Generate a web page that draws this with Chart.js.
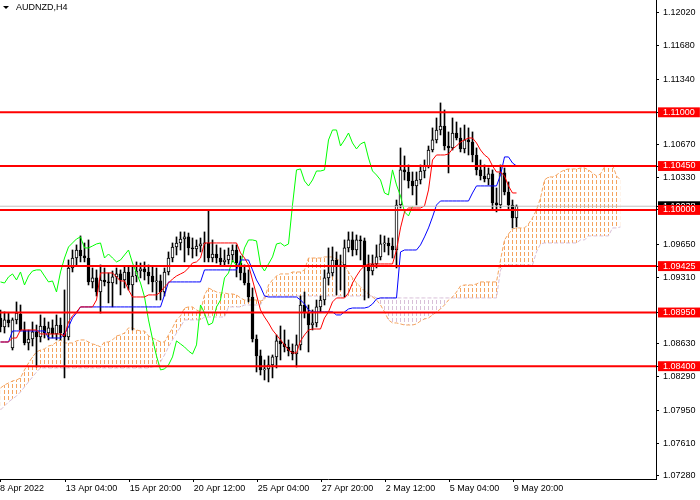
<!DOCTYPE html>
<html>
<head>
<meta charset="utf-8">
<script src="https://cdn.jsdelivr.net/npm/chart.js@4.4.1/dist/chart.umd.min.js"></script>
<style>
html,body{margin:0;padding:0;background:#fff;}
#wrap{position:relative;width:700px;height:500px;overflow:hidden;}
#c{position:absolute;left:0;top:0;}
#tri{position:absolute;left:3px;top:6px;width:0;height:0;border-left:3px solid transparent;border-right:3px solid transparent;border-top:3px solid #000;}
#title{position:absolute;left:16px;top:2px;font-family:"Liberation Sans",Arial,sans-serif;font-size:9px;line-height:10px;color:#000;white-space:nowrap;}
</style>
</head>
<body>
<div id="wrap">
<canvas id="c" width="700" height="500"></canvas>
<div id="tri"></div>
<div id="title">AUDNZD,H4</div>
</div>
<script>
// ---- data (AUDNZD H4 candles, one entry per bar) ----
const opens = [
1.08894,1.08802,1.08874,1.08587,1.08874,1.08935,1.08771,1.08638,1.08679,1.08751,
1.08700,1.08812,1.08740,1.08792,1.08730,1.08822,1.08740,1.08700,1.09406,1.09508,
1.09590,1.09529,1.09508,1.09263,1.09304,1.09160,1.09283,1.09263,1.09252,1.09314,
1.09345,1.09283,1.09365,1.09232,1.09324,1.09375,1.09396,1.09365,1.09324,1.09263,
1.09273,1.09160,1.09365,1.09508,1.09621,1.09662,1.09703,1.09724,1.09611,1.09601,
1.09631,1.09652,1.09662,1.09508,1.09549,1.09508,1.09468,1.09488,1.09539,1.09590,
1.09457,1.09355,1.09252,1.09109,1.08679,1.08505,1.08362,1.08372,1.08413,1.08495,
1.08659,1.08628,1.08597,1.08556,1.08525,1.08618,1.09027,1.08945,1.08822,1.08843,
1.09007,1.09078,1.09304,1.09355,1.09488,1.09427,1.09437,1.09611,1.09693,1.09590,
1.09693,1.09683,1.09437,1.09375,1.09447,1.09519,1.09652,1.09662,1.09631,1.09590,
1.10051,1.10410,1.10389,1.10297,1.10246,1.10307,1.10399,1.10451,1.10614,1.10717,
1.10819,1.10860,1.10655,1.10635,1.10788,1.10737,1.10625,1.10717,1.10696,1.10563,
1.10410,1.10348,1.10317,1.10369,1.10072,1.10051,1.10379,1.10184,1.10051,1.09918];
const highs = [
1.08976,1.08956,1.08945,1.08894,1.09058,1.09027,1.08853,1.08771,1.08853,1.08822,
1.08925,1.08894,1.08853,1.08874,1.08925,1.08894,1.09181,1.09488,1.09590,1.09642,
1.09734,1.09662,1.09693,1.09406,1.09386,1.09437,1.09406,1.09355,1.09375,1.09406,
1.09386,1.09427,1.09427,1.09427,1.09468,1.09457,1.09468,1.09437,1.09427,1.09406,
1.09334,1.09406,1.09570,1.09662,1.09724,1.09775,1.09775,1.09764,1.09713,1.09693,
1.09713,1.09775,1.09990,1.09693,1.09642,1.09611,1.09590,1.09611,1.09642,1.09642,
1.09529,1.09437,1.09386,1.09201,1.08720,1.08566,1.08464,1.08505,1.08515,1.08720,
1.08812,1.08771,1.08669,1.08628,1.08720,1.09119,1.09160,1.09027,1.08976,1.09078,
1.09119,1.09386,1.09611,1.09621,1.09570,1.09539,1.09693,1.09775,1.09775,1.09744,
1.09734,1.09713,1.09539,1.09539,1.09642,1.09744,1.09734,1.09713,1.09713,1.10102,
1.10635,1.10553,1.10461,1.10389,1.10389,1.10461,1.10512,1.10655,1.10840,1.10942,
1.11096,1.11024,1.10799,1.10942,1.10901,1.10840,1.10870,1.10840,1.10799,1.10635,
1.10512,1.10461,1.10430,1.10410,1.10225,1.10461,1.10430,1.10287,1.10102,1.10051];
const lows = [
1.08751,1.08740,1.08802,1.08566,1.08833,1.08761,1.08618,1.08566,1.08607,1.08392,
1.08648,1.08689,1.08669,1.08689,1.08669,1.08669,1.08280,1.08669,1.09365,1.09437,
1.09468,1.09468,1.09232,1.09201,1.09119,1.08945,1.09222,1.09048,1.09007,1.09242,
1.09130,1.09201,1.09181,1.08771,1.09263,1.09304,1.09283,1.09242,1.09160,1.09078,
1.09078,1.09119,1.09334,1.09468,1.09539,1.09590,1.09468,1.09539,1.09508,1.09529,
1.09570,1.09468,1.09468,1.09468,1.09457,1.09427,1.09427,1.09447,1.09468,1.09314,
1.09283,1.09232,1.09058,1.08648,1.08341,1.08310,1.08259,1.08239,1.08280,1.08382,
1.08464,1.08546,1.08505,1.08464,1.08392,1.08566,1.08894,1.08546,1.08771,1.08802,
1.08956,1.09027,1.09232,1.09324,1.09130,1.09181,1.09109,1.09570,1.09529,1.09539,
1.09488,1.09078,1.09099,1.09334,1.09406,1.09488,1.09570,1.09539,1.09508,1.09406,
1.10020,1.10307,1.10225,1.10154,1.10051,1.10266,1.10328,1.10430,1.10594,1.10686,
1.10768,1.10614,1.10379,1.10614,1.10717,1.10594,1.10584,1.10563,1.10492,1.10358,
1.10307,1.10287,1.10256,1.10000,1.09980,1.10020,1.10154,1.10000,1.09816,1.09826];
const closes = [
1.08802,1.08874,1.08843,1.08874,1.08945,1.08771,1.08638,1.08679,1.08751,1.08700,
1.08812,1.08740,1.08792,1.08730,1.08822,1.08740,1.08700,1.09406,1.09508,1.09590,
1.09529,1.09508,1.09263,1.09304,1.09160,1.09283,1.09263,1.09252,1.09314,1.09345,
1.09283,1.09365,1.09232,1.09324,1.09375,1.09396,1.09365,1.09324,1.09263,1.09273,
1.09160,1.09365,1.09508,1.09621,1.09662,1.09703,1.09724,1.09611,1.09601,1.09631,
1.09652,1.09662,1.09508,1.09549,1.09508,1.09468,1.09488,1.09539,1.09590,1.09457,
1.09355,1.09252,1.09109,1.08679,1.08505,1.08362,1.08372,1.08413,1.08495,1.08659,
1.08628,1.08597,1.08556,1.08525,1.08618,1.09027,1.08945,1.08822,1.08843,1.09007,
1.09078,1.09304,1.09355,1.09488,1.09427,1.09437,1.09611,1.09693,1.09590,1.09693,
1.09683,1.09437,1.09375,1.09447,1.09519,1.09652,1.09662,1.09631,1.09590,1.10051,
1.10410,1.10389,1.10297,1.10246,1.10307,1.10399,1.10451,1.10614,1.10717,1.10819,
1.10860,1.10655,1.10635,1.10788,1.10737,1.10625,1.10717,1.10696,1.10563,1.10410,
1.10348,1.10317,1.10369,1.10072,1.10051,1.10379,1.10184,1.10051,1.09918,1.10038];

// Ichimoku lines
const tenkan = [
1.08648,1.08648,1.08648,1.08689,1.08689,1.08771,1.08771,1.08771,1.08771,1.08771,
1.08730,1.08730,1.08730,1.08730,1.08730,1.08730,1.08710,1.08853,1.08915,1.08956,
1.09007,1.09007,1.09007,1.09007,1.09078,1.09355,1.09355,1.09355,1.09355,1.09314,
1.09273,1.09273,1.09181,1.09109,1.09109,1.09109,1.09109,1.09130,1.09130,1.09130,
1.09160,1.09212,1.09252,1.09293,1.09324,1.09345,1.09365,1.09406,1.09457,1.09468,
1.09508,1.09662,1.09662,1.09662,1.09662,1.09662,1.09662,1.09662,1.09662,1.09662,
1.09560,1.09508,1.09437,1.09283,1.09130,1.08976,1.08904,1.08843,1.08771,1.08720,
1.08669,1.08618,1.08566,1.08536,1.08536,1.08659,1.08720,1.08771,1.08781,1.08781,
1.08781,1.08894,1.08956,1.09058,1.09099,1.09099,1.09099,1.09150,1.09252,1.09324,
1.09386,1.09427,1.09447,1.09447,1.09447,1.09447,1.09447,1.09447,1.09447,1.09590,
1.09816,1.09980,1.10020,1.10020,1.10020,1.10020,1.10041,1.10205,1.10512,1.10563,
1.10563,1.10563,1.10573,1.10625,1.10655,1.10696,1.10717,1.10737,1.10737,1.10686,
1.10614,1.10563,1.10532,1.10451,1.10389,1.10389,1.10348,1.10246,1.10174,1.10174];
const kijun = [
1.08648,1.08648,1.08648,1.08761,1.08761,1.08761,1.08761,1.08761,1.08761,1.08761,
1.08761,1.08761,1.08689,1.08689,1.08689,1.08689,1.08730,1.08802,1.08894,1.08945,
1.09007,1.09007,1.09007,1.09007,1.09007,1.09007,1.09007,1.09007,1.09007,1.09007,
1.09007,1.09007,1.09007,1.09007,1.09007,1.09007,1.09007,1.09007,1.09007,1.09007,
1.09007,1.09130,1.09263,1.09263,1.09263,1.09263,1.09263,1.09263,1.09263,1.09263,
1.09263,1.09386,1.09386,1.09386,1.09386,1.09386,1.09386,1.09386,1.09386,1.09386,
1.09488,1.09488,1.09488,1.09386,1.09283,1.09212,1.09119,1.09109,1.09109,1.09109,
1.09109,1.09109,1.09109,1.09109,1.09109,1.09078,1.09037,1.08976,1.08956,1.08956,
1.08956,1.08956,1.08956,1.08956,1.08925,1.08925,1.08956,1.08986,1.08996,1.08996,
1.08996,1.08996,1.09007,1.09037,1.09089,1.09099,1.09099,1.09099,1.09099,1.09099,
1.09570,1.09590,1.09590,1.09590,1.09590,1.09642,1.09724,1.09816,1.09928,1.10051,
1.10092,1.10092,1.10092,1.10092,1.10092,1.10092,1.10092,1.10092,1.10174,1.10246,
1.10246,1.10246,1.10246,1.10246,1.10246,1.10358,1.10543,1.10543,1.10481,1.10451];
const chikou = [
1.09263,1.09252,1.09314,1.09345,1.09283,1.09365,1.09232,1.09324,1.09375,1.09386,
1.09386,1.09324,1.09263,1.09273,1.09160,1.09365,1.09508,1.09621,1.09662,1.09703,
1.09724,1.09611,1.09611,1.09631,1.09652,1.09662,1.09508,1.09549,1.09508,1.09468,
1.09488,1.09539,1.09590,1.09457,1.09355,1.09252,1.09109,1.08874,1.08679,1.08505,
1.08362,1.08372,1.08413,1.08495,1.08659,1.08628,1.08597,1.08556,1.08525,1.08618,
1.09027,1.08945,1.08822,1.08843,1.09007,1.09078,1.09304,1.09355,1.09488,1.09427,
1.09437,1.09611,1.09693,1.09693,1.09683,1.09437,1.09375,1.09447,1.09519,1.09652,
1.09662,1.09631,1.09652,1.10051,1.10410,1.10420,1.10297,1.10246,1.10307,1.10399,
1.10399,1.10410,1.10717,1.10819,1.10819,1.10655,1.10717,1.10788,1.10686,1.10625,
1.10676,1.10696,1.10532,1.10399,1.10358,1.10307,1.10174,1.10154,1.10410,1.10256,
1.10143,1.09980,1.09939,1.10038];
const senkouA = [
1.08177,1.08208,1.08228,1.08249,1.08259,1.08280,1.08362,1.08433,1.08495,1.08546,
1.08566,1.08577,1.08607,1.08618,1.08648,1.08669,1.08638,1.08638,1.08638,1.08659,
1.08669,1.08669,1.08648,1.08628,1.08618,1.08597,1.08648,1.08648,1.08669,1.08710,
1.08720,1.08740,1.08792,1.08792,1.08771,1.08761,1.08761,1.08710,1.08689,1.08669,
1.08648,1.08648,1.08720,1.08792,1.08874,1.08915,1.08996,1.09007,1.09007,1.08976,
1.08956,1.09130,1.09201,1.09181,1.09160,1.09150,1.09150,1.09140,1.09140,1.09130,
1.09099,1.09078,1.09078,1.09078,1.09078,1.09068,1.09078,1.09232,1.09283,1.09324,
1.09345,1.09345,1.09345,1.09365,1.09365,1.09365,1.09386,1.09508,1.09508,1.09508,
1.09508,1.09519,1.09519,1.09519,1.09498,1.09478,1.09437,1.09365,1.09304,1.09252,
1.09212,1.09171,1.09140,1.09109,1.09078,1.09027,1.08956,1.08874,1.08843,1.08843,
1.08833,1.08822,1.08822,1.08822,1.08833,1.08863,1.08884,1.08894,1.08925,1.08956,
1.08986,1.09027,1.09078,1.09109,1.09160,1.09222,1.09232,1.09232,1.09232,1.09242,
1.09263,1.09263,1.09263,1.09263,1.09263,1.09488,1.09693,1.09754,1.09805,1.09816,
1.09816,1.09816,1.09857,1.09918,1.10000,1.10123,1.10307,1.10338,1.10338,1.10358,
1.10389,1.10410,1.10420,1.10420,1.10420,1.10430,1.10430,1.10410,1.10379,1.10348,
1.10369,1.10440,1.10451,1.10461,1.10348,1.10307];
const senkouB = [
1.07952,1.07993,1.08034,1.08065,1.08095,1.08136,1.08188,1.08239,1.08290,1.08341,
1.08382,1.08382,1.08382,1.08382,1.08382,1.08382,1.08382,1.08382,1.08382,1.08382,
1.08382,1.08382,1.08382,1.08382,1.08382,1.08382,1.08382,1.08382,1.08382,1.08382,
1.08382,1.08382,1.08382,1.08382,1.08382,1.08382,1.08382,1.08382,1.08392,1.08403,
1.08444,1.08515,1.08597,1.08669,1.08740,1.08802,1.08874,1.08874,1.08874,1.08874,
1.08874,1.08904,1.08904,1.08904,1.08904,1.08904,1.08904,1.09007,1.09007,1.09007,
1.09007,1.09027,1.09027,1.09027,1.09027,1.09027,1.09119,1.09119,1.09119,1.09119,
1.09119,1.09119,1.09119,1.09119,1.09119,1.09119,1.09119,1.09119,1.09119,1.09119,
1.09119,1.09119,1.09119,1.09119,1.09119,1.09119,1.09119,1.09119,1.09119,1.09119,
1.09119,1.09119,1.09119,1.09119,1.09099,1.09099,1.09099,1.09099,1.09099,1.09099,
1.09099,1.09099,1.09099,1.09099,1.09099,1.09099,1.09099,1.09099,1.09099,1.09099,
1.09099,1.09099,1.09099,1.09099,1.09099,1.09099,1.09099,1.09099,1.09099,1.09099,
1.09099,1.09099,1.09099,1.09099,1.09099,1.09386,1.09437,1.09437,1.09437,1.09437,
1.09437,1.09437,1.09437,1.09437,1.09570,1.09652,1.09662,1.09662,1.09662,1.09662,
1.09662,1.09662,1.09662,1.09662,1.09662,1.09693,1.09693,1.09734,1.09734,1.09734,
1.09734,1.09734,1.09734,1.09816,1.09816,1.09826];

// Horizontal levels and axis labels
const levels = [1.11000, 1.10450, 1.10000, 1.09425, 1.08950, 1.08400];
const bid = 1.10038;
const yTickValues = [1.12020, 1.11680, 1.11340, 1.10670, 1.10330, 1.09650, 1.09310, 1.08630, 1.08290, 1.07950, 1.07610, 1.07280];
const xTickLabels = ['8 Apr 2022', '13 Apr 04:00', '15 Apr 20:00', '20 Apr 12:00', '25 Apr 04:00', '27 Apr 20:00', '2 May 12:00', '5 May 04:00', '9 May 20:00'];
const xTickBars = [0, 16, 32, 48, 64, 80, 96, 112, 128];

// ---- chart ----
const xMin = -0.125, xMax = 163.875;
const yMin = 1.07245, yMax = 1.12150;
const FONT = { family: "'Liberation Sans', Arial, sans-serif", size: 9, lineHeight: 1.1 };

function dashPattern(color) {
  const c = document.createElement('canvas');
  c.width = 4; c.height = 6;
  const g = c.getContext('2d');
  g.fillStyle = color;
  g.fillRect(0, 0, 1, 4);
  return g.createPattern(c, 'repeat');
}
const pts = arr => arr.map((v, i) => ({ x: i, y: v }));
const hline = v => [{ x: xMin - 2, y: v }, { x: xMax + 2, y: v }];
const isSpecial = v => v === bid || levels.includes(v);

const datasets = [
  { type: 'line', label: 'Senkou Span A', data: pts(senkouA), borderColor: '#F4A460', borderWidth: 1, borderDash: [4, 2],
    pointRadius: 0, tension: 0, fill: { target: '+1', above: dashPattern('#F4A460'), below: dashPattern('#D8BFD8') }, order: 6 },
  { type: 'line', label: 'Senkou Span B', data: pts(senkouB), borderColor: '#D8BFD8', borderWidth: 1, borderDash: [4, 2],
    pointRadius: 0, tension: 0, fill: false, order: 5 },
  { type: 'bar', label: 'wicks', data: highs.map((h, i) => ({ x: i, y: [lows[i], h] })), backgroundColor: '#000',
    barThickness: 1, grouped: false, order: 4 },
  { type: 'bar', label: 'bodies', data: opens.map((o, i) => ({ x: i, y: [o, closes[i]] })),
    backgroundColor: opens.map((o, i) => closes[i] >= o ? '#ffffff' : '#000000'), borderColor: '#000', borderWidth: 1,
    borderSkipped: false, barThickness: 3, minBarLength: 1, grouped: false, order: 3 },
  { type: 'line', label: 'Tenkan-sen', data: pts(tenkan), borderColor: '#FF0000', borderWidth: 1, pointRadius: 0, tension: 0, fill: false, order: 2 },
  { type: 'line', label: 'Kijun-sen', data: pts(kijun), borderColor: '#0000FF', borderWidth: 1, pointRadius: 0, tension: 0, fill: false, order: 2 },
  { type: 'line', label: 'Chikou Span', data: pts(chikou), borderColor: '#00FF00', borderWidth: 1, pointRadius: 0, tension: 0, fill: false, order: 2 },
  { type: 'line', label: 'Bid', data: hline(bid), borderColor: '#C0C0C0', borderWidth: 1, pointRadius: 0, fill: false, order: 1 },
  ...levels.map(v => ({ type: 'line', label: 'level ' + v, data: hline(v), borderColor: '#FF0000', borderWidth: 2,
    pointRadius: 0, fill: false, order: 0 }))
];

new Chart(document.getElementById('c'), {
  type: 'line',
  data: { datasets },
  options: {
    responsive: false,
    animation: false,
    events: [],
    layout: { padding: 0 },
    plugins: { legend: { display: false }, tooltip: { enabled: false }, title: { display: false } },
    scales: {
      x: {
        type: 'linear', min: xMin, max: xMax, offset: false, position: 'bottom',
        afterBuildTicks: s => { s.ticks = xTickBars.map((b, i) => ({ value: i === 0 ? xMin : b + 0.3 })); },
        afterFit: s => { s.height = 21; s.paddingLeft = 0; s.paddingRight = 0; },
        grid: { drawOnChartArea: false, drawTicks: true, tickLength: 3, color: '#000', offset: false },
        border: { display: true, color: '#000', width: 1 },
        ticks: { autoSkip: false, maxRotation: 0, minRotation: 0, align: 'start', padding: 2, font: FONT, color: '#000',
          callback: (v, i) => xTickLabels[i] }
      },
      y: {
        type: 'linear', position: 'right', min: yMin, max: yMax,
        afterBuildTicks: s => { s.ticks = yTickValues.concat([bid], levels).map(v => ({ value: v })); },
        afterFit: s => { s.width = 44; s.paddingTop = 0; s.paddingBottom = 0; },
        grid: { drawOnChartArea: false, drawTicks: true, tickLength: 3, color: '#000' },
        border: { display: true, color: '#000', width: 1 },
        ticks: {
          autoSkip: false, padding: 4, font: FONT,
          callback: v => Number(v).toFixed(5),
          color: c => (c.tick && isSpecial(c.tick.value)) ? '#ffffff' : '#000000',
          showLabelBackdrop: c => !!(c.tick && isSpecial(c.tick.value)),
          backdropColor: c => (c.tick && c.tick.value === bid) ? '#000000' : '#FF0000',
          backdropPadding: { left: 5, right: 5, top: 0, bottom: 0 }
        }
      }
    }
  }
});
</script>
</body>
</html>
